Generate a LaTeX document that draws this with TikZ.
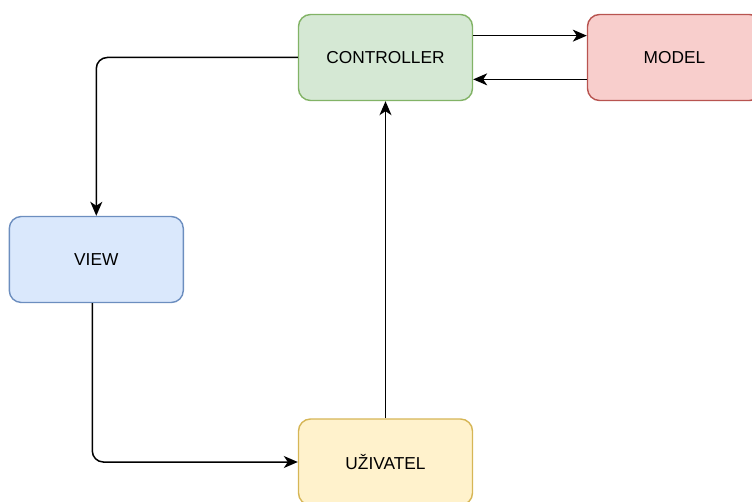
\documentclass[tikz,border=0pt]{standalone}
\usepackage{fontspec}
\setmainfont{Liberation Sans}
\usepackage{tikz}
\usetikzlibrary{calc}
\usetikzlibrary{arrows.meta}
\definecolor{ctrlfill}{HTML}{D5E8D4}
\definecolor{ctrldraw}{HTML}{82B366}
\definecolor{modelfill}{HTML}{F8CECC}
\definecolor{modeldraw}{HTML}{B85450}
\definecolor{viewfill}{HTML}{DAE8FC}
\definecolor{viewdraw}{HTML}{6C8EBF}
\definecolor{userfill}{HTML}{FFF2CC}
\definecolor{userdraw}{HTML}{D6B656}
\tikzset{box/.style = {shape=rectangle,draw,rounded corners=12pt,line width=1.4pt,minimum width=174pt,minimum height=86pt,font=\fontsize{17.3}{20}\selectfont}}
\tikzset{edge/.style = {-{Stealth[length=14pt,width=12pt,inset=4pt]},line width=1.5pt,rounded corners=11pt}}

\begin{document}
\begin{tikzpicture}[x=1pt,y=-1pt]
                    \useasboundingbox (0,0) rectangle (752,502);
                    \clip (0,0) rectangle (752,502);

                    \node[box, fill=ctrlfill, draw=ctrldraw] (ctrl) at (385.5,57.5) {CONTROLLER};
                    \node[box, fill=modelfill, draw=modeldraw] (model) at (674.5,57.5) {MODEL};
                    \node[box, fill=viewfill, draw=viewdraw] (view) at (96.3,259.5) {VIEW};
                    \node[box, fill=userfill, draw=userdraw] (user) at (385.5,462) {UŽIVATEL};

                    \draw[edge] (ctrl.west) -| (view.north);
                    \draw[edge] ($(ctrl.north east)!.25!(ctrl.south east)$) -- ($(model.north west)!.25!(model.south west)$);
                    \draw[edge] ($(model.north west)!.75!(model.south west)$) -- ($(ctrl.north east)!.75!(ctrl.south east)$);
                    \draw[edge] ([xshift=-4pt]view.south) |- (user.west);
                    \draw[edge] (user) -- (ctrl);
                \end{tikzpicture}
\end{document}
